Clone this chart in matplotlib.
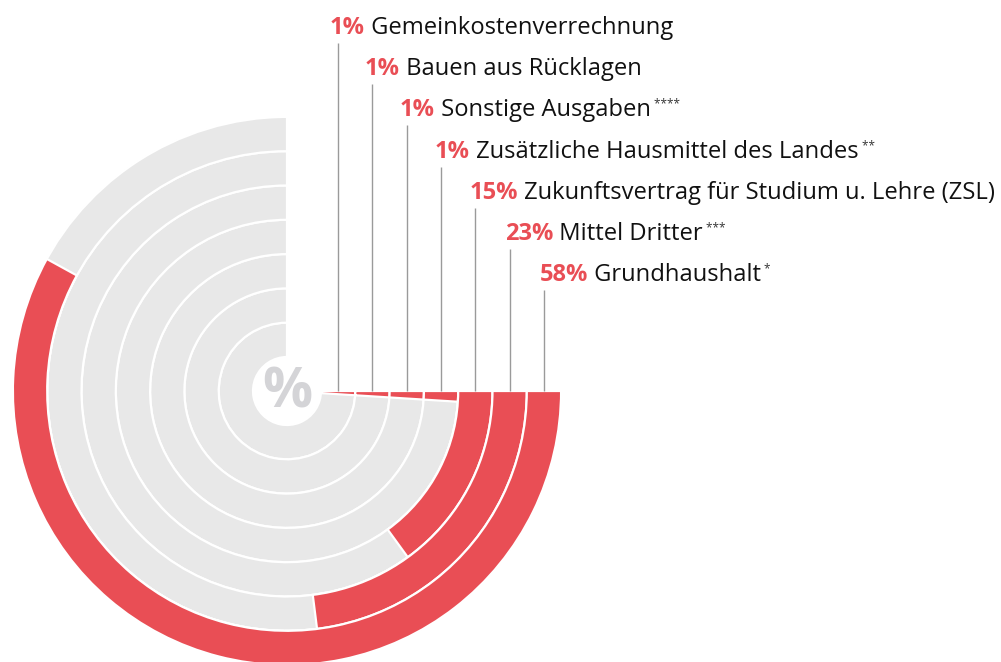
import matplotlib
matplotlib.use("Agg")
import matplotlib.pyplot as plt
from matplotlib.patches import Wedge

# ---- data (top label = innermost ring) ----
categories = [
    "Gemeinkostenverrechnung",
    "Bauen aus Rücklagen",
    "Sonstige Ausgaben",
    "Zusätzliche Hausmittel des Landes",
    "Zukunftsvertrag für Studium u. Lehre (ZSL)",
    "Mittel Dritter",
    "Grundhaushalt",
]
values = [1, 1, 1, 1, 15, 23, 58]
footnotes = ["", "", "****", "**", "", "***", "*"]

# ---- style ----
RED = "#E94E55"
TRACK = "#E8E8E8"
TEXT = "#111111"
LINE = "#9a9a9a"
FONT = "Open Sans"

W, H = 1001, 662
fig = plt.figure(figsize=(W / 100, H / 100), dpi=100)
ax = fig.add_axes([0, 0, 1, 1])
ax.set_xlim(0, W)
ax.set_ylim(H, 0)
ax.axis("off")

cx, cy = 287, 391
r0 = 34.0
ring_w = 34.3
track_span = 270  # degrees clockwise from 3 o'clock

for i, (cat, val, fn) in enumerate(zip(categories, values, footnotes)):
    r_out = r0 + (i + 1) * ring_w
    # gray track
    ax.add_patch(Wedge((cx, cy), r_out, 0, track_span, width=ring_w,
                       facecolor=TRACK, edgecolor="white", linewidth=1.6))
    # red value arc (100% = full circle)
    ax.add_patch(Wedge((cx, cy), r_out, 0, val * 3.6, width=ring_w,
                       facecolor=RED, edgecolor="white", linewidth=1.6, zorder=2))
    # leader line
    r_mid = r_out - ring_w / 2
    lx = cx + r_mid
    ly = 25 + i * 41.2
    ax.plot([lx, lx], [cy, ly + 18], color=LINE, lw=1.0, zorder=3,
            solid_capstyle="butt")
    # label
    t1 = ax.text(330 + i * 35, ly + 3, f"{val}%", color=RED, fontsize=17,
                 fontweight="bold", family=FONT, va="center", ha="left")
    t2 = ax.annotate(" " + cat, xy=(1, 0), xycoords=t1, va="bottom", ha="left",
                     color=TEXT, fontsize=17.1, family=FONT,
                     xytext=(0, 0), textcoords="offset points")
    if fn:
        ax.annotate(" " + fn, xy=(1, 1), xycoords=t2, va="top", ha="left",
                    color="#333333", fontsize=8.5, family=FONT,
                    xytext=(0, 0), textcoords="offset points")

ax.text(cx, cy + 2, "%", color="#d4d4d7", fontsize=40, fontweight="bold",
        family=FONT, ha="center", va="center")

fig.savefig("out.png", dpi=100)
